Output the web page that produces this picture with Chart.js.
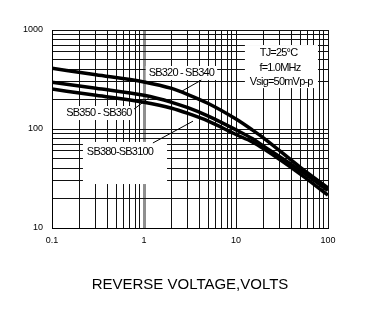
<!DOCTYPE html>
<html>
<head>
<meta charset="utf-8">
<script src="https://cdn.jsdelivr.net/npm/chart.js@4.4.1/dist/chart.umd.min.js"></script>
<style>
  html, body { margin: 0; padding: 0; background: #fff; }
  #wrap { width: 386px; height: 333px; }
</style>
</head>
<body>
<div id="wrap"><canvas id="capChart" width="386" height="333"></canvas></div>
<script>
// reverse voltage (V) where the curves are sampled
const voltage = [0.1, 0.3, 1, 2, 3, 5, 10, 15, 20, 50, 100];
// junction capacitance (pF) per device group
const capSB320 = [410, 354, 299, 257, 223, 181, 126, 98, 81, 41, 25.4];
const capSB350 = [297, 258, 219, 186, 164, 135, 98, 80, 67, 38, 24];
const capSB380 = [253, 219, 186, 162, 143.5, 120, 88, 74, 63, 35, 21.5];

const xTickLabels = ['0.1', '1', '10', '100'];
const yTickLabels = ['10', '100', '1000'];

const FONT = '"Liberation Sans", Arial, sans-serif';
const INK = '#000';

// 1..9 lines in every decade between lo and hi
function decadeGrid(lo, hi) {
  const out = [];
  for (let d = lo; d < hi * 0.999; d *= 10) {
    for (let k = 1; k < 10; k++) out.push(+(d * k).toPrecision(3));
  }
  out.push(hi);
  return out;
}
const xGrid = decadeGrid(0.1, 100);
const yGrid = decadeGrid(10, 1000);

function sameLog(a, b) {
  return Math.abs(Math.log10(a) - Math.log10(b)) < 1e-6;
}
function labelFor(v, list) {
  const hit = list.find(t => sameLog(+t, v));
  return hit === undefined ? '' : hit;
}

function curve(label, values) {
  return {
    label,
    data: voltage.map((v, i) => ({ x: v, y: values[i] })),
    borderColor: INK,
    borderWidth: 3.5,
    pointRadius: 0,
    fill: false,
    cubicInterpolationMode: 'monotone'
  };
}

// curve captions, leader lines and the test-condition box (data coordinates)
const captions = [
  { text: 'SB320 - SB340', at: [2.55, 368], from: [4.2, 312], to: [2.6, 242] },
  { text: 'SB350 - SB360', at: [0.324, 145], from: [0.78, 159], to: [1.16, 210] },
  { text: 'SB380-SB3100', at: [0.548, 58.6], from: [1.25, 72.3], to: [3.41, 120] }
];
const blanks = [
  { x: [0.217, 1.78], y: [74, 27.8] },
  { x: [12.5, 77.8], y: [705, 259] }
];
const conditions = [
  { text: 'TJ=25°C', at: [29, 586] },
  { text: 'f=1.0MHz', at: [30, 413] },
  { text: 'Vsig=50mVp-p', at: [31, 298] }
];

const notes = {
  id: 'notes',
  beforeDatasetsDraw(chart) {
    const { ctx, scales: { x, y } } = chart;
    ctx.save();
    ctx.fillStyle = '#fff';
    blanks.forEach(b => {
      const x0 = x.getPixelForValue(b.x[0]), x1 = x.getPixelForValue(b.x[1]);
      const y0 = y.getPixelForValue(b.y[0]), y1 = y.getPixelForValue(b.y[1]);
      ctx.fillRect(x0, y0, x1 - x0, y1 - y0);
    });
    ctx.font = '11px ' + FONT;
    ctx.letterSpacing = '-0.8px';
    captions.forEach(c => {
      const w = ctx.measureText(c.text).width;
      const cx = x.getPixelForValue(c.at[0]), cy = y.getPixelForValue(c.at[1]);
      ctx.fillRect(cx - w / 2 - 3, cy - 7, w + 6, 14);
    });
    ctx.restore();
  },
  afterDatasetsDraw(chart) {
    const { ctx, scales: { x, y } } = chart;
    ctx.save();
    ctx.strokeStyle = INK;
    ctx.lineWidth = 1;
    captions.forEach(c => {
      ctx.beginPath();
      ctx.moveTo(x.getPixelForValue(c.from[0]), y.getPixelForValue(c.from[1]));
      ctx.lineTo(x.getPixelForValue(c.to[0]), y.getPixelForValue(c.to[1]));
      ctx.stroke();
    });
    ctx.fillStyle = INK;
    ctx.font = '11px ' + FONT;
    ctx.letterSpacing = '-0.8px';
    ctx.textAlign = 'center';
    ctx.textBaseline = 'middle';
    captions.concat(conditions).forEach(c => {
      ctx.fillText(c.text, x.getPixelForValue(c.at[0]), y.getPixelForValue(c.at[1]));
    });
    ctx.restore();
  }
};

new Chart(document.getElementById('capChart'), {
  type: 'line',
  data: {
    datasets: [
      curve('SB320 - SB340', capSB320),
      curve('SB350 - SB360', capSB350),
      curve('SB380-SB3100', capSB380)
    ]
  },
  options: {
    responsive: false,
    animation: false,
    events: [],
    layout: { padding: { top: 30, right: 58, left: 0, bottom: 0 } },
    plugins: { legend: { display: false }, tooltip: { enabled: false } },
    scales: {
      x: {
        type: 'logarithmic',
        min: 0.1,
        max: 100,
        afterBuildTicks: s => { s.ticks = xGrid.map(v => ({ value: v })); },
        afterFit: s => { s.height = 105; },
        grid: {
          drawTicks: false,
          color: c => (c.tick && sameLog(c.tick.value, 1)) ? '#8f8f8f' : '#111',
          lineWidth: c => (c.tick && sameLog(c.tick.value, 1)) ? 3 : 1
        },
        border: { color: INK, width: 1 },
        ticks: {
          autoSkip: false,
          maxRotation: 0,
          padding: 7,
          color: INK,
          font: { family: FONT, size: 9 },
          callback: v => labelFor(v, xTickLabels)
        },
        title: {
          display: true,
          text: 'REVERSE VOLTAGE,VOLTS',
          color: INK,
          font: { family: FONT, size: 15 },
          padding: { top: 0, bottom: 39 }
        }
      },
      y: {
        type: 'logarithmic',
        min: 10,
        max: 1000,
        afterBuildTicks: s => { s.ticks = yGrid.map(v => ({ value: v })); },
        afterFit: s => { s.width = 52; },
        grid: { drawTicks: false, color: '#111', lineWidth: 1 },
        border: { color: INK, width: 1 },
        ticks: {
          autoSkip: false,
          padding: 9,
          color: INK,
          font: { family: FONT, size: 9 },
          callback: v => labelFor(v, yTickLabels)
        }
      }
    }
  },
  plugins: [notes]
});
</script>
</body>
</html>
